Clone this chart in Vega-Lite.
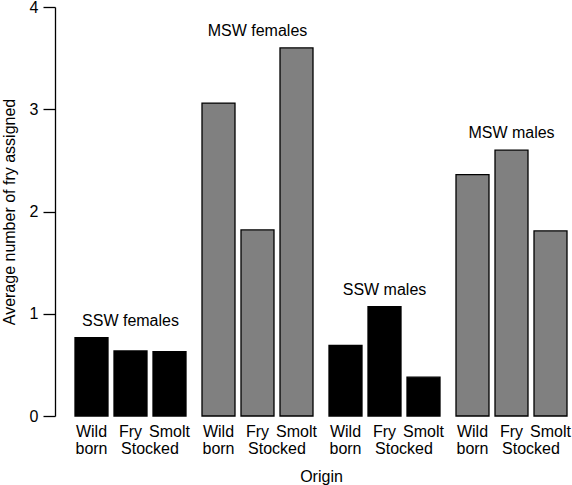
{
  "$schema": "https://vega.github.io/schema/vega-lite/v6.json",
  "width": 492,
  "height": 409,
  "autosize": {"type": "none"},
  "padding": {"left": 75, "top": 7, "right": 5, "bottom": 69},
  "config": {
    "view": {"stroke": null},
    "font": "Liberation Sans",
    "text": {"font": "Liberation Sans", "fontSize": 16, "color": "black"}
  },
  "data": {
    "values": [
      {"sex": "SSW females", "origin": "Wild born", "line1": "Wild", "value": 0.766},
      {"sex": "SSW females", "origin": "Fry stocked", "line1": "Fry", "value": 0.636},
      {"sex": "SSW females", "origin": "Smolt stocked", "line1": "Smolt", "value": 0.629},
      {"sex": "MSW females", "origin": "Wild born", "line1": "Wild", "value": 3.06},
      {"sex": "MSW females", "origin": "Fry stocked", "line1": "Fry", "value": 1.82},
      {"sex": "MSW females", "origin": "Smolt stocked", "line1": "Smolt", "value": 3.6},
      {"sex": "SSW males", "origin": "Wild born", "line1": "Wild", "value": 0.69},
      {"sex": "SSW males", "origin": "Fry stocked", "line1": "Fry", "value": 1.07},
      {"sex": "SSW males", "origin": "Smolt stocked", "line1": "Smolt", "value": 0.38},
      {"sex": "MSW males", "origin": "Wild born", "line1": "Wild", "value": 2.36},
      {"sex": "MSW males", "origin": "Fry stocked", "line1": "Fry", "value": 2.6},
      {"sex": "MSW males", "origin": "Smolt stocked", "line1": "Smolt", "value": 1.81}
    ]
  },
  "encoding": {
    "x": {
      "field": "sex",
      "type": "nominal",
      "scale": {
        "domain": ["SSW females", "MSW females", "SSW males", "MSW males"],
        "paddingInner": 0.126,
        "paddingOuter": 0
      },
      "axis": {
        "title": "Origin",
        "labels": false,
        "ticks": false,
        "domain": false,
        "titleFont": "Liberation Sans",
        "titleFontSize": 16,
        "titleFontWeight": "normal",
        "titleColor": "black",
        "titleBaseline": "alphabetic",
        "titlePadding": 65
      }
    }
  },
  "layer": [
    {
      "mark": {"type": "bar", "stroke": "black", "strokeWidth": 1.3},
      "encoding": {
        "xOffset": {
          "field": "origin",
          "type": "nominal",
          "scale": {
            "domain": ["Wild born", "Fry stocked", "Smolt stocked"],
            "paddingInner": 0.154,
            "paddingOuter": 0
          }
        },
        "y": {
          "field": "value",
          "type": "quantitative",
          "title": "Average number of fry assigned",
          "scale": {"domain": [0, 4], "nice": false},
          "axis": {
            "values": [0, 1, 2, 3, 4],
            "format": "d",
            "grid": false,
            "offset": 20,
            "tickSize": 12,
            "tickWidth": 1.3,
            "tickColor": "black",
            "domainColor": "black",
            "domainWidth": 1.3,
            "labelPadding": 5,
            "labelFont": "Liberation Sans",
            "labelFontSize": 16,
            "labelColor": "black",
            "labelFlush": false,
            "titleFont": "Liberation Sans",
            "titleFontSize": 16,
            "titleFontWeight": "normal",
            "titleColor": "black",
            "titlePadding": 12
          }
        },
        "color": {
          "field": "sex",
          "type": "nominal",
          "scale": {
            "domain": ["SSW females", "MSW females", "SSW males", "MSW males"],
            "range": ["#000000", "#808080", "#000000", "#808080"]
          },
          "legend": null
        }
      }
    },
    {
      "mark": {"type": "text", "baseline": "alphabetic", "dy": -12},
      "encoding": {
        "y": {"aggregate": "max", "field": "value", "type": "quantitative", "title": "Average number of fry assigned"},
        "text": {"field": "sex", "type": "nominal"}
      }
    },
    {
      "mark": {"type": "text", "baseline": "alphabetic", "dy": 21},
      "encoding": {
        "xOffset": {"field": "origin", "type": "nominal"},
        "y": {"datum": 0, "type": "quantitative", "title": "Average number of fry assigned"},
        "text": {"field": "line1", "type": "nominal"}
      }
    },
    {
      "transform": [{"filter": "datum.origin === 'Wild born'"}],
      "mark": {"type": "text", "baseline": "alphabetic", "dy": 38},
      "encoding": {
        "xOffset": {"field": "origin", "type": "nominal"},
        "y": {"datum": 0, "type": "quantitative", "title": "Average number of fry assigned"},
        "text": {"value": "born"}
      }
    },
    {
      "transform": [{"filter": "datum.origin === 'Fry stocked'"}],
      "mark": {"type": "text", "baseline": "alphabetic", "dy": 38, "dx": 19.5},
      "encoding": {
        "xOffset": {"field": "origin", "type": "nominal"},
        "y": {"datum": 0, "type": "quantitative", "title": "Average number of fry assigned"},
        "text": {"value": "Stocked"}
      }
    }
  ]
}
